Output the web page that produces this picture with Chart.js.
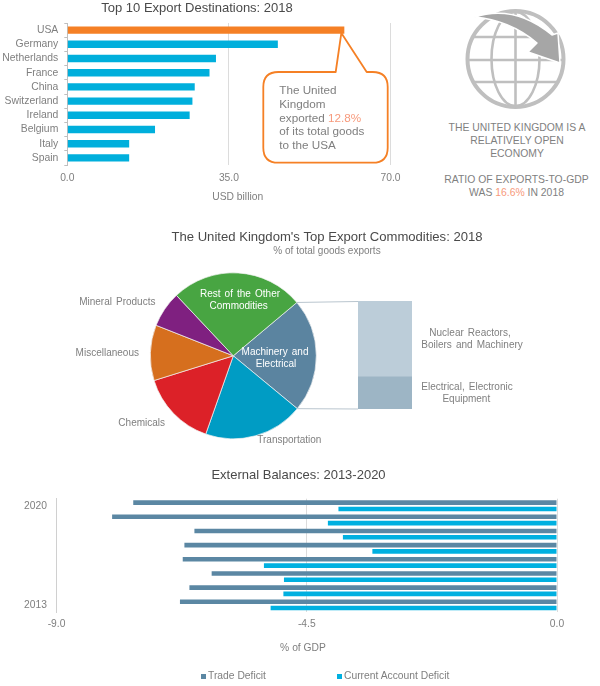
<!DOCTYPE html>
<html><head><meta charset="utf-8">
<script src="https://cdn.jsdelivr.net/npm/chart.js@4/dist/chart.umd.min.js"></script>
<style>
html,body{margin:0;padding:0;background:#fff;}
#page{position:relative;width:600px;height:686px;overflow:hidden;background:#fff;font-family:"Liberation Sans",Arial,sans-serif;color:#7f7f7f;filter:blur(.35px);}
canvas{position:absolute;}
.t{position:absolute;white-space:pre;line-height:13.65px;}
.c{text-align:center;transform:translateX(-50%);}
.hl{color:#f79a7c;}
.lg{position:absolute;font-size:10.3px;line-height:12px;top:670px;}
.mk{position:absolute;width:5px;height:5px;top:673.5px;}
svg{position:absolute;left:0;top:0;}
</style></head><body>
<div id="page">
<canvas id="dest" width="420" height="210" style="left:0;top:0"></canvas>
<canvas id="pie" width="546" height="230" style="left:54px;top:225px"></canvas>
<canvas id="stack" width="54" height="108" style="left:358px;top:301px"></canvas>
<canvas id="bal" width="600" height="226" style="left:0;top:460px"></canvas>

<svg width="600" height="120">
  <g fill="none" stroke="#bfbfbf" stroke-width="2.6">
    <circle cx="515.5" cy="59" r="48" stroke-width="4"/>
    <ellipse cx="515.5" cy="59" rx="24" ry="47"/>
    <line x1="515.5" y1="12" x2="515.5" y2="106"/>
    <line x1="473" y1="37" x2="558" y2="37"/>
    <line x1="468" y1="60" x2="563" y2="60"/>
    <line x1="473" y1="82" x2="558" y2="82"/>
  </g>
  <path d="M474,17 Q515,4 552,35 L558,33 L560,63 L528,52 L537,43 Q510,20 474,17 Z" fill="#a6a6a6" stroke="#fff" stroke-width="1.5" stroke-linejoin="round"/>
</svg>

<div class="t" style="left:279.3px;top:83.2px;font-size:11.7px">The United
Kingdom
exported <span class="hl">12.8%</span>
of its total goods
to the USA</div>

<div class="t c" style="left:517px;top:121px;font-size:10.4px;line-height:13.2px;text-align:center">THE UNITED KINGDOM IS A
RELATIVELY OPEN
ECONOMY</div>
<div class="t c" style="left:516.5px;top:172.5px;font-size:10.4px;line-height:13.7px;text-align:center">RATIO OF EXPORTS-TO-GDP
WAS <span class="hl">16.6%</span> IN 2018</div>

<div class="mk" style="left:201px;background:#5b87a3"></div>
<div class="lg" style="left:208px">Trade Deficit</div>
<div class="mk" style="left:337px;background:#00b0e0"></div>
<div class="lg" style="left:344px">Current Account Deficit</div>
</div>

<script>
// ---------- data ----------
const destCategories = ["USA","Germany","Netherlands","France","China","Switzerland","Ireland","Belgium","Italy","Spain"];
const destValues = [60.0,45.6,32.2,30.8,27.6,27.1,26.5,19.0,13.4,13.4];
const destTicks = [0,35,70];

const pieCategories = ["Machinery and Electrical","Transportation","Chemicals","Miscellaneous","Mineral Products","Rest of the Other Commodities"];
const pieValues = [22.1,19.4,14.8,10.8,7.0,25.9];
const pieColors = ["#5b84a0","#009cc4","#dc2128","#d66f1e","#7f2080","#48a542"];

const stackCategories = ["Machinery and Electrical"];
const nuclearValues = [15.5];
const electricalValues = [6.6];

const balYears = ["2020","2019","2018","2017","2016","2015","2014","2013"];
const tradeDeficit = [-7.62,-8.0,-6.52,-6.70,-6.73,-6.21,-6.61,-6.78];
const currentAccountDeficit = [-3.93,-4.12,-3.85,-3.32,-5.27,-4.91,-4.92,-5.15];
const balTicks = [-9,-4.5,0];

// ---------- shared ----------
const FONT = '"Liberation Sans", Arial, sans-serif';
const GREY = "#7f7f7f", TITLE = "#4a4a4a", GRID = "#dcdcdc";
Chart.defaults.font.family = FONT;
Chart.defaults.color = GREY;
Chart.defaults.animation = false;
Chart.defaults.responsive = false;
Chart.defaults.plugins.legend.display = false;
Chart.defaults.plugins.tooltip.enabled = false;

const drawLabels = (chart, list) => {
  const c = chart.ctx; c.save();
  c.textAlign = "center"; c.textBaseline = "middle";
  list.forEach(l => {
    c.font = (l.size || 10) + "px " + FONT;
    c.fillStyle = l.color || GREY;
    c.wordSpacing = l.ws || "0px";
    c.fillText(l.text, l.x, l.y);
  });
  c.restore();
};
const labelsPlugin = list => ({id:"labels", afterDraw: chart => drawLabels(chart, list)});
// moves the title blocks sideways, since the reference centres them away from the plot
const shiftTitles = d => ({id:"shiftTitles", afterLayout(chart){
  chart.boxes.filter(b=>b.options&&b.options.position==="top"&&b.options.text!==undefined).forEach(b=>{b.left+=d;b.right+=d;});
}});

// ---------- top bar chart ----------
const calloutPlugin = {
  id:"callout",
  afterDatasetsDraw(chart){
    const c = chart.ctx;
    const bar = chart.getDatasetMeta(0).data[0];
    const tipX = bar.x - 3, tipY = bar.y + 3;
    const L=263.3, T=72, R=387.7, B=162.7, r=15;
    c.save();
    c.strokeStyle = "#f58025"; c.lineWidth = 1.8; c.fillStyle = "#fff"; c.lineJoin="round";
    c.beginPath();
    c.moveTo(L+r,T);
    c.lineTo(335.7,T);
    c.lineTo(tipX,tipY);
    c.lineTo(366.7,T);
    c.lineTo(R-r,T); c.quadraticCurveTo(R,T,R,T+r);
    c.lineTo(R,B-r); c.quadraticCurveTo(R,B,R-r,B);
    c.lineTo(L+r,B); c.quadraticCurveTo(L,B,L,B-r);
    c.lineTo(L,T+r); c.quadraticCurveTo(L,T,L+r,T);
    c.closePath(); c.fill(); c.stroke();
    c.restore();
  }
};
new Chart(document.getElementById("dest"),{
  type:"bar",
  data:{labels:destCategories,datasets:[{
    data:destValues,
    backgroundColor:destCategories.map((_,i)=>i===0?"#f58025":"#00afdc"),
    barPercentage:.52,categoryPercentage:1
  }]},
  options:{
    indexAxis:"y",
    layout:{padding:{left:0,right:29.5,top:0,bottom:0}},
    plugins:{title:{display:true,text:"Top 10 Export Destinations: 2018",color:TITLE,
      font:{size:13,weight:"normal"},padding:{top:0.4,bottom:7}}},
    scales:{
      x:{min:0,max:70,afterBuildTicks:s=>{s.ticks=destTicks.map(v=>({value:v}));},
        grid:{color:GRID,drawTicks:false},border:{display:false},
        ticks:{callback:v=>v.toFixed(1),font:{size:10.3},padding:7,maxRotation:0},
        afterFit:s=>{s.height=45;}},
      y:{grid:{drawOnChartArea:false,color:"#bfbfbf",tickLength:3},border:{color:"#bfbfbf"},
        ticks:{font:{size:10.4},padding:6,autoSkip:false},
        afterFit:s=>{s.width=67.3;}}
    }
  },
  plugins:[calloutPlugin,shiftTitles(1.75),labelsPlugin([{text:"USD billion",x:237.7,y:197,size:10.3}])]
});

// ---------- pie ----------
const connectorPlugin = {
  id:"connector",
  afterDatasetsDraw(chart){
    const a = chart.getDatasetMeta(0).data[0], c = chart.ctx;
    const r = a.outerRadius, ex = 358-54;
    c.save(); c.strokeStyle="#b9c5ce"; c.lineWidth=1;
    c.beginPath();
    c.moveTo(a.x+r*Math.cos(a.startAngle),a.y+r*Math.sin(a.startAngle)); c.lineTo(ex,76.5);
    c.moveTo(a.x+r*Math.cos(a.endAngle),a.y+r*Math.sin(a.endAngle)); c.lineTo(ex,184);
    c.stroke(); c.restore();
  }
};
const ws = "1.3px", px = 54, py = 225;
const pieLabels = [
  {text:"Rest of the Other",x:240-px,y:294-py,color:"#fff",ws},
  {text:"Commodities",x:238.7-px,y:306.3-py,color:"#fff",ws},
  {text:"Machinery and",x:275-px,y:352-py,color:"#fff",ws},
  {text:"Electrical",x:276-px,y:364-py,color:"#fff",ws},
  {text:"Mineral Products",x:117.3-px,y:302-py,ws},
  {text:"Miscellaneous",x:107.3-px,y:353-py,ws},
  {text:"Chemicals",x:141.7-px,y:423.7-py,ws},
  {text:"Transportation",x:289.3-px,y:440.3-py,ws},
  {text:"Nuclear Reactors,",x:470-px,y:333.7-py,ws},
  {text:"Boilers and Machinery",x:472-px,y:345.7-py,ws},
  {text:"Electrical, Electronic",x:467-px,y:387.7-py,ws},
  {text:"Equipment",x:466.3-px,y:399.7-py,ws}
];
new Chart(document.getElementById("pie"),{
  type:"pie",
  data:{labels:pieCategories,datasets:[{data:pieValues,backgroundColor:pieColors,borderColor:"#f2f2f2",borderWidth:.7}]},
  options:{
    rotation:50,radius:83,
    layout:{padding:{left:0,right:187.4,top:0,bottom:4.6}},
    plugins:{
      title:{display:true,text:"The United Kingdom's Top Export Commodities: 2018",color:TITLE,
        font:{size:13.1,weight:"normal"},padding:{top:4.5,bottom:0}},
      subtitle:{display:true,text:"% of total goods exports",color:GREY,
        font:{size:10,weight:"normal"},padding:{top:0,bottom:4}}
    }
  },
  plugins:[connectorPlugin,shiftTitles(93.7),labelsPlugin(pieLabels)]
});

// ---------- stacked breakdown ----------
new Chart(document.getElementById("stack"),{
  type:"bar",
  data:{labels:stackCategories,datasets:[
    {label:"Electrical, Electronic Equipment",data:electricalValues,backgroundColor:"#9db5c5",barPercentage:1,categoryPercentage:1},
    {label:"Nuclear Reactors, Boilers and Machinery",data:nuclearValues,backgroundColor:"#bccdd9",barPercentage:1,categoryPercentage:1}
  ]},
  options:{
    layout:{padding:0},
    scales:{
      x:{stacked:true,display:false},
      y:{stacked:true,display:false,min:0,max:22.1}
    }
  }
});

// ---------- external balances ----------
new Chart(document.getElementById("bal"),{
  type:"bar",
  data:{labels:balYears,datasets:[
    {label:"Trade Deficit",data:tradeDeficit,backgroundColor:"#5b87a3",barPercentage:.73,categoryPercentage:.89},
    {label:"Current Account Deficit",data:currentAccountDeficit,backgroundColor:"#00b0e0",barPercentage:.73,categoryPercentage:.89}
  ]},
  options:{
    indexAxis:"y",
    layout:{padding:{left:0,right:43,top:0,bottom:0}},
    plugins:{title:{display:true,text:"External Balances: 2013-2020",color:TITLE,
      font:{size:13,weight:"normal"},padding:{top:7.5,bottom:15.6}}},
    scales:{
      x:{min:-9,max:0,afterBuildTicks:s=>{s.ticks=balTicks.map(v=>({value:v}));},
        grid:{color:GRID,drawTicks:false},border:{display:false},
        ticks:{callback:v=>v.toFixed(1),font:{size:10.3},padding:6,maxRotation:0},
        afterFit:s=>{s.height=74;}},
      y:{grid:{display:false,drawTicks:false},border:{color:"#d0d0d0"},
        ticks:{font:{size:10.3},padding:9.5,autoSkip:false,
          callback:function(v,i){return (i===0||i===balYears.length-1)?this.getLabelForValue(v):"";}},
        afterFit:s=>{s.width=56.5;}}
    }
  },
  plugins:[shiftTitles(20),labelsPlugin([{text:"% of GDP",x:303,y:188,size:10.3}])]
});
</script>
</body></html>
